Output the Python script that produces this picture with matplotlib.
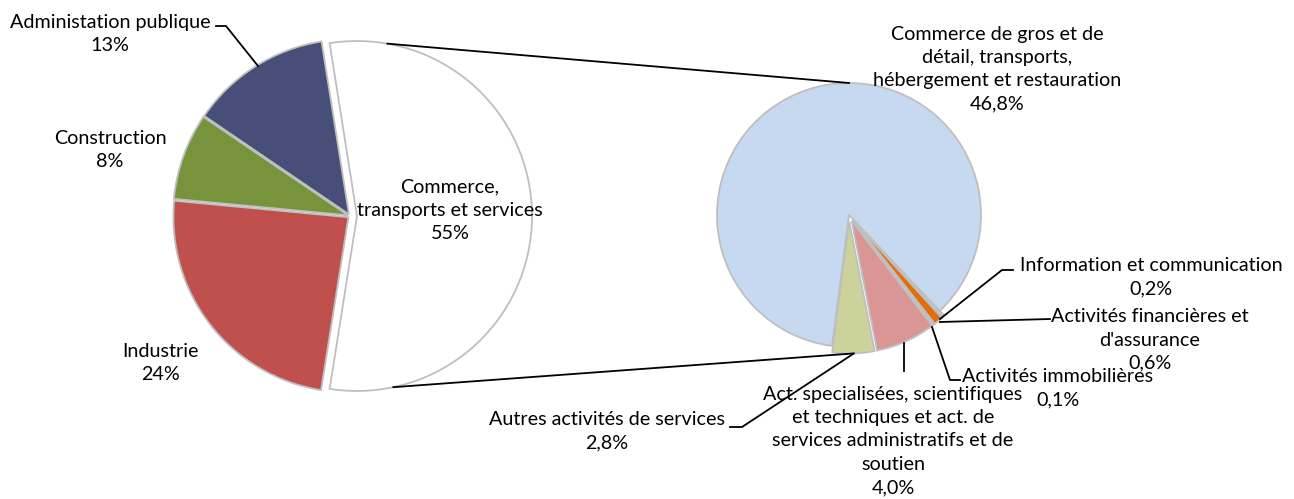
import numpy as np
import matplotlib
matplotlib.use('Agg')
import matplotlib.pyplot as plt

# données
main_labels = ['Commerce,\ntransports et services', 'Administation publique', 'Construction', 'Industrie']
main_values = [55, 13, 8, 24]
main_pct = ['55%', '13%', '8%', '24%']
main_colors = ['#FFFFFF', '#474F78', '#77933C', '#C0504D']

sub_labels = ['Autres activités de services',
              'Act. specialisées, scientifiques\net techniques et act. de\nservices administratifs et de\nsoutien',
              'Activités immobilières',
              "Activités financières et\nd'assurance",
              'Information et communication',
              'Commerce de gros et de\ndétail, transports,\nhébergement et restauration']
sub_values = [2.8, 4.0, 0.1, 0.6, 0.2, 46.8]
sub_pct = ['2,8%', '4,0%', '0,1%', '0,6%', '0,2%', '46,8%']
sub_colors = ['#CBD39B', '#DA9694', '#BFBFBF', '#E46C0A', '#B7C9DD', '#C6D9F1']

W, H = 1294, 499
plt.rcParams['font.family'] = ['Lato', 'DejaVu Sans']
plt.rcParams['font.size'] = 14.2

fig = plt.figure(figsize=(W / 100, H / 100), dpi=100)
ax = fig.add_axes([0, 0, 1, 1])


def Y(py):
    # pixels -> données (axe y vers le haut)
    return H - py


# camembert principal (explode en unités de données)
c1 = (350, Y(216))
r1 = 175
ex1 = 7
ax.pie(main_values, colors=main_colors, startangle=-99, counterclock=True,
       center=c1, radius=r1, explode=[ex1, 2, 2, 2],
       wedgeprops=dict(edgecolor='#BFBFBF', linewidth=1.3))

# second camembert
c2 = (849, Y(215))
r2 = 132
ex2 = 6.5
ax.pie(sub_values, colors=sub_colors, startangle=262.6, counterclock=True,
       center=c2, radius=r2, explode=[ex2, ex2, ex2, ex2, ex2, 0],
       wedgeprops=dict(edgecolor='#BFBFBF', linewidth=1.3))

ax.set_xlim(0, W)
ax.set_ylim(0, H)
ax.set_aspect('equal')
ax.axis('off')

# lignes de liaison
cx1 = c1[0] + ex1
top1 = (cx1 + r1 * np.cos(np.radians(80)), c1[1] + r1 * np.sin(np.radians(80)))
bot1 = (cx1 + r1 * np.cos(np.radians(-78)), c1[1] + r1 * np.sin(np.radians(-78)))
top2 = (c2[0], c2[1] + r2)
bot2 = (c2[0] + (r2 + ex2) * np.cos(np.radians(-88)), c2[1] + (r2 + ex2) * np.sin(np.radians(-88)))
ax.plot([top1[0], top2[0]], [top1[1], top2[1]], color='black', lw=1.3)
ax.plot([bot1[0], bot2[0]], [bot1[1], bot2[1]], color='black', lw=1.3)

# étiquettes camembert principal
ax.text(450, Y(210), main_labels[0] + '\n' + main_pct[0], ha='center', va='center', linespacing=1.45)
ax.text(110, Y(34), main_labels[1] + '\n' + main_pct[1], ha='center', va='center', linespacing=1.45)
ax.text(110, Y(150), main_labels[2] + '\n' + main_pct[2], ha='center', va='center', linespacing=1.45)
ax.text(160, Y(363), main_labels[3] + '\n' + main_pct[3], ha='center', va='center', linespacing=1.45)

# étiquettes second camembert
sub_pos = [(607, 431), (893, 441), (1058, 388), (1150, 340), (1151, 277), (997, 69)]
for lab, pct, (px, py) in zip(sub_labels, sub_pct, sub_pos):
    ax.text(px, Y(py), lab + '\n' + pct, ha='center', va='center', linespacing=1.45)

# lignes de repère
leaders = [
    [(216, 26), (226, 26), (258, 66)],
    [(1013, 270), (1002, 270), (940, 319)],
    [(1050, 319), (940, 322)],
    [(932, 327), (950, 380), (960, 380)],
    [(904, 343), (904, 371)],
    [(730, 427), (742, 427), (853, 354)],
]
for pts in leaders:
    ax.plot([p[0] for p in pts], [Y(p[1]) for p in pts], color='black', lw=1.3)

fig.savefig('out.png', dpi=100)
